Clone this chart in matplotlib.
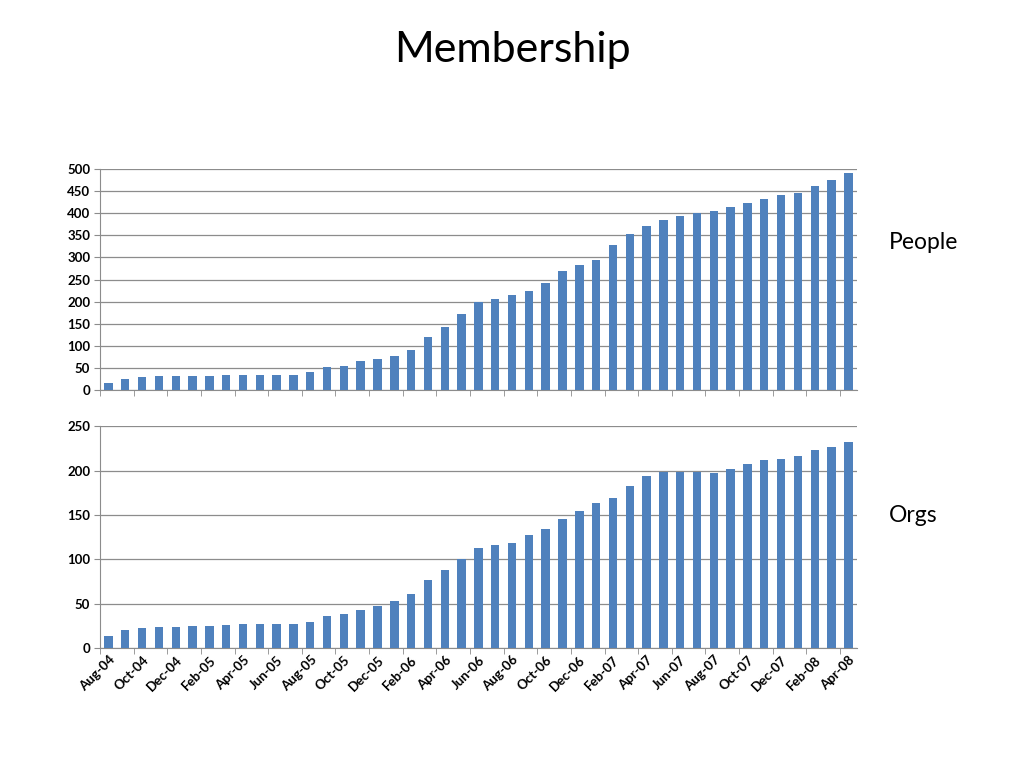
import matplotlib
matplotlib.use("Agg")
import matplotlib.pyplot as plt
import numpy as np

months = ["Aug-04", "Sep-04", "Oct-04", "Nov-04", "Dec-04",
          "Jan-05", "Feb-05", "Mar-05", "Apr-05", "May-05", "Jun-05", "Jul-05",
          "Aug-05", "Sep-05", "Oct-05", "Nov-05", "Dec-05",
          "Jan-06", "Feb-06", "Mar-06", "Apr-06", "May-06", "Jun-06", "Jul-06",
          "Aug-06", "Sep-06", "Oct-06", "Nov-06", "Dec-06",
          "Jan-07", "Feb-07", "Mar-07", "Apr-07", "May-07", "Jun-07", "Jul-07",
          "Aug-07", "Sep-07", "Oct-07", "Nov-07", "Dec-07",
          "Jan-08", "Feb-08", "Mar-08", "Apr-08"]

people = [17, 26, 30, 31, 31, 31, 33, 34, 35, 35, 35, 35, 42, 52, 55, 66, 71, 78,
          91, 120, 142, 173, 199, 206, 215, 225, 242, 270, 283, 295, 329, 353,
          371, 385, 394, 401, 405, 414, 422, 432, 441, 446, 462, 476, 490]

orgs = [14, 20, 23, 24, 24, 25, 25, 26, 27, 27, 27, 27, 30, 36, 39, 43, 47, 53,
        61, 77, 88, 100, 113, 116, 119, 127, 134, 146, 154, 163, 169, 183,
        194, 198, 198, 198, 197, 202, 208, 212, 213, 217, 223, 227, 232]

BAR = "#4F81BD"
GRID = "#8c8c8c"
plt.rcParams["font.family"] = ["Lato", "DejaVu Sans"]

fig = plt.figure(figsize=(10.24, 7.68), dpi=100)
fig.text(0.5, 0.935, "Membership", ha="center", va="center", fontsize=31)

x = np.arange(len(months))
panels = [
    (people, [0.0977, 0.492, 0.739, 0.288], 500, 50, "People", 0.684),
    (orgs, [0.0977, 0.156, 0.739, 0.289], 250, 50, "Orgs", 0.329),
]

for i, (vals, rect, ymax, step, name, ly) in enumerate(panels):
    ax = fig.add_axes(rect)
    ax.bar(x, vals, width=0.5, color=BAR, zorder=3)
    ax.set_xlim(-0.5, len(months) - 0.5)
    ax.set_ylim(0, ymax)
    ax.set_yticks(np.arange(0, ymax + 1, step))
    ax.yaxis.grid(True, color=GRID, lw=0.9, zorder=0)
    for s in ("top", "right"):
        ax.spines[s].set_visible(False)
    ax.spines["left"].set_color(GRID)
    ax.spines["bottom"].set_color(GRID)
    ax.tick_params(axis="y", length=4, color=GRID, labelsize=9.5, pad=3)
    for t in ax.get_yticklabels():
        t.set_fontweight("bold")
    # tick marks between every second category, labels on every second bar
    ax.set_xticks(np.arange(-0.5, len(months), 2), minor=True)
    ax.tick_params(axis="x", which="minor", length=4, color=GRID)
    ax.set_xticks(x[::2])
    if i == 1:
        ax.set_xticklabels(months[::2], rotation=45, ha="right",
                           rotation_mode="anchor", fontsize=9.5, fontweight="bold")
        ax.tick_params(axis="x", which="major", length=0, pad=4)
    else:
        ax.set_xticklabels([])
        ax.tick_params(axis="x", which="major", length=0)
    fig.text(0.868, ly, name, ha="left", va="center", fontsize=16.5)

fig.savefig("out.png", dpi=100)
